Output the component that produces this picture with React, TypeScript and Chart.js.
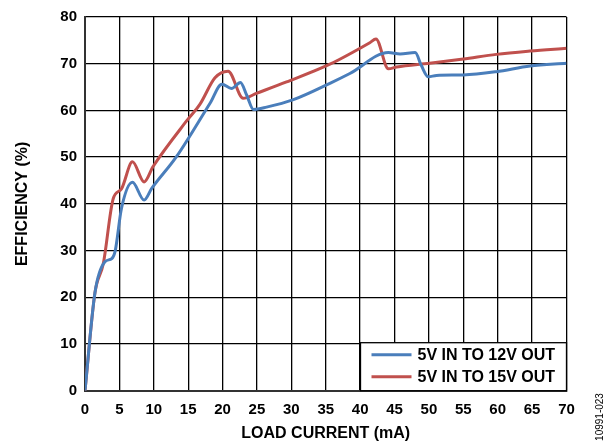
import React, { useEffect, useRef } from "react";
import { Chart, registerables } from "chart.js";

Chart.register(...registerables);

const seriesLabels = ["5V IN TO 12V OUT", "5V IN TO 15V OUT"];
const seriesColors = ["#4a7ebb", "#c0504d"];

const blueX = [0, 1.45, 2.9, 3.9, 4.4, 5.3, 6.9, 8.6, 9.7, 13.3, 18.2, 19.9, 21.3, 22.6, 23.5, 24.5, 26.4, 30.3, 35.6, 38.5, 44.1, 45.8, 48, 48.9, 49.9, 51.1, 55, 59.8, 64.7, 70];
const blueY = [0, 21, 27.6, 28.3, 30, 39, 44.6, 40.8, 43.3, 50.1, 61.6, 65.6, 64.7, 66, 63.3, 60.2, 60.7, 62.3, 65.8, 67.9, 72.4, 72.1, 72.4, 69.6, 67.2, 67.5, 67.6, 68.3, 69.5, 70.1];

const redX = [0, 1.45, 2.66, 4.1, 5.3, 6.9, 8.6, 9.9, 14.8, 16.7, 18.9, 20.8, 23, 25, 29.3, 35.6, 41.4, 42.3, 44.1, 45.3, 50.1, 55, 59.8, 64.7, 70];
const redY = [0, 21, 27.2, 41.1, 43.2, 49, 44.7, 48, 57.8, 61.3, 67, 68.4, 62.6, 63.7, 66.1, 69.9, 74.5, 75.3, 68.9, 69.3, 70.1, 71, 72, 72.7, 73.3];

const xTicks = [0, 5, 10, 15, 20, 25, 30, 35, 40, 45, 50, 55, 60, 65, 70];
const yTicks = [0, 10, 20, 30, 40, 50, 60, 70, 80];
const xTitle = "LOAD CURRENT (mA)";
const yTitle = "EFFICIENCY (%)";
const figureId = "10991-023";

const FONT = "'Liberation Sans', Arial, sans-serif";

const legendPlugin = {
  id: "boxLegend",
  afterDatasetsDraw(chart: any) {
    const { ctx, chartArea } = chart;
    const w = 206;
    const h = 48;
    const x = chartArea.right - w;
    const y = chartArea.bottom - h;
    ctx.save();
    ctx.fillStyle = "#ffffff";
    ctx.fillRect(x, y, w, h);
    ctx.strokeStyle = "#000000";
    ctx.lineWidth = 1.3;
    ctx.strokeRect(x, y, w, h);
    chart.data.datasets.forEach((ds: any, i: number) => {
      const ly = y + 12 + i * 22;
      ctx.strokeStyle = ds.borderColor;
      ctx.lineWidth = 3;
      ctx.beginPath();
      ctx.moveTo(x + 11, ly);
      ctx.lineTo(x + 51, ly);
      ctx.stroke();
      ctx.fillStyle = "#000000";
      ctx.font = `bold 16px ${FONT}`;
      ctx.textBaseline = "middle";
      ctx.textAlign = "left";
      ctx.fillText(ds.label, x + 57, ly + 1);
    });
    ctx.restore();
  },
  afterDraw(chart: any) {
    const { ctx } = chart;
    ctx.save();
    ctx.translate(600, 417);
    ctx.rotate(-Math.PI / 2);
    ctx.fillStyle = "#000000";
    ctx.font = `10px ${FONT}`;
    ctx.textAlign = "center";
    ctx.textBaseline = "middle";
    ctx.fillText(figureId, 0, 0);
    ctx.restore();
  },
};

export default function App() {
  const ref = useRef<HTMLCanvasElement | null>(null);
  useEffect(() => {
    document.body.style.margin = "0";
    const canvas = ref.current;
    if (!canvas) return;
    const chart = new Chart(canvas, {
      type: "line",
      data: {
        datasets: [
          {
            label: seriesLabels[0],
            data: blueX.map((x, i) => ({ x, y: blueY[i] })),
            borderColor: seriesColors[0],
            backgroundColor: seriesColors[0],
            borderWidth: 3,
            pointRadius: 0,
            cubicInterpolationMode: "monotone",
          },
          {
            label: seriesLabels[1],
            data: redX.map((x, i) => ({ x, y: redY[i] })),
            borderColor: seriesColors[1],
            backgroundColor: seriesColors[1],
            borderWidth: 3,
            pointRadius: 0,
            cubicInterpolationMode: "monotone",
          },
        ],
      },
      options: {
        animation: false,
        responsive: false,
        maintainAspectRatio: false,
        layout: { padding: { top: 7.5, right: 49.5, left: 0, bottom: 0 } },
        plugins: {
          legend: { display: false },
          tooltip: { enabled: false },
        },
        scales: {
          x: {
            type: "linear",
            min: 0,
            max: 70,
            afterFit: (s: any) => {
              s.height = 57.3;
            },
            afterBuildTicks: (s: any) => {
              s.ticks = xTicks.map((v) => ({ value: v }));
            },
            grid: { color: "#000000", lineWidth: 1.3, drawTicks: false },
            border: { color: "#333333", width: 2 },
            ticks: {
              padding: 10,
              color: "#000000",
              font: { family: FONT, size: 15, weight: "bold" },
              maxRotation: 0,
            },
            title: {
              display: true,
              text: xTitle,
              color: "#000000",
              font: { family: FONT, size: 16, weight: "bold" },
              padding: { top: 0, bottom: 4.4 },
            },
          },
          y: {
            type: "linear",
            min: 0,
            max: 80,
            afterFit: (s: any) => {
              s.width = 85;
            },
            afterBuildTicks: (s: any) => {
              s.ticks = yTicks.map((v) => ({ value: v }));
            },
            grid: { color: "#000000", lineWidth: 1.3, drawTicks: false },
            border: { color: "#333333", width: 2 },
            ticks: {
              padding: 8,
              color: "#000000",
              font: { family: FONT, size: 15, weight: "bold" },
            },
            title: {
              display: true,
              text: yTitle,
              color: "#000000",
              font: { family: FONT, size: 16, weight: "bold" },
              padding: { top: 13.4, bottom: 0 },
            },
          },
        },
      },
      plugins: [legendPlugin],
    } as any);
    return () => chart.destroy();
  }, []);
  return (
    <div style={{ position: "absolute", left: 0, top: 0, width: 616, height: 448 }}>
      <canvas ref={ref} width={616} height={448} style={{ display: "block" }} />
    </div>
  );
}
